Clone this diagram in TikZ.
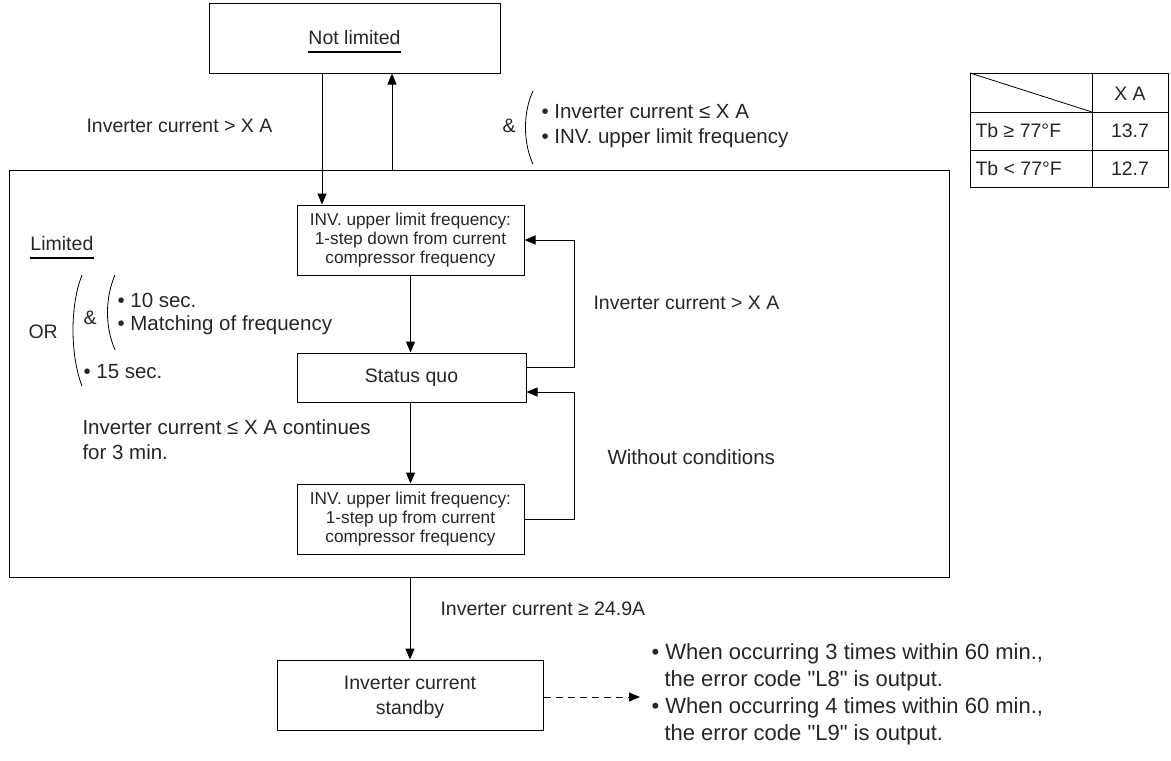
\documentclass[tikz,border=0pt]{standalone}
\usepackage{fontspec}
\setmainfont{Liberation Sans}
\newfontfamily\qfont{Liberation Sans}[Ligatures=TeXOff]
\usetikzlibrary{arrows.meta}
\begin{document}
\begin{tikzpicture}[x=1pt,y=-1pt,
  line width=1pt,
  every node/.style={font=\fontsize{19.5}{25}\selectfont, text=black!85},
  box/.style={draw, inner sep=0pt, align=center},
  smallbox/.style={box, font=\fontsize{17.2}{19}\selectfont, minimum width=227pt, minimum height=70pt},
  lbl/.style={anchor=west, inner sep=0pt, align=left},
  big lbl/.style={lbl, font=\fontsize{20.5}{25}\selectfont},
  arr/.style={-{Triangle[length=11pt,width=9pt]}},
  paren/.style={line width=0.8pt}
]
\useasboundingbox (0,0) rectangle (1171,761);

% boxes
\node[box, minimum width=291pt, minimum height=70pt] (nl) at (354.5,38) {};
\node[inner sep=0pt] (nlt) at (354.5,38) {Not limited};
\draw[line width=1.2pt] ([yshift=-7pt]nlt.base west) -- ([yshift=-7pt]nlt.base east);

\node[box, minimum width=940pt, minimum height=407pt] (big) at (479,373.5) {};
\node[lbl] (lim) at (30,244) {Limited};
\draw[line width=1.2pt] ([yshift=-7pt]lim.base west) -- ([yshift=-7pt]lim.base east);

\node[smallbox] (b1) at (410.5,240) {INV. upper limit frequency:\\1-step down from current\\compressor frequency};
\node[box, minimum width=229pt, minimum height=49pt] (sq) at (411.5,377.5) {Status quo};
\node[smallbox] (b3) at (410.5,519) {INV. upper limit frequency:\\1-step up from current\\compressor frequency};
\node[box, minimum width=266pt, minimum height=70pt] (sb) at (410,695) {};
\node[inner sep=0pt, align=center] (sbt) at (410,697.5) {Inverter current\\standby};

% connectors
\coordinate (d1) at (322,0);
\coordinate (u1) at (392,0);
\coordinate (r) at (574,0);
\coordinate (de) at (640,697);
\draw[arr] (nl.south -| d1) -- (b1.north -| d1);
\draw[arr] (big.north -| u1) -- (nl.south -| u1);
\draw[arr] (b1.south) -- (b1.south |- sq.north);
\draw[arr] (sq.south -| b3.north) -- (b3.north);
\draw[arr] ([yshift=10pt]sq.east) -- ([yshift=10pt]sq.east -| r) |- (b1.east);
\draw[arr] (b3.east) -- (b3.east -| r) |- ([yshift=-14.5pt]sq.east);
\draw[arr] (big.south -| sb.north) -- (sb.north);
\draw[arr, dashed, dash pattern=on 7pt off 5pt] ([yshift=-2pt]sb.east) -- (de);

% labels
\node[lbl] (l1) at (86,126) {Inverter current > X A};
\node[lbl] (amp1) at (502,126) {\&};
\draw[paren] (533,91) .. controls (523,112) and (523,143) .. (533,164);
\node[big lbl] (c1) at (541,112) {• Inverter current ≤ X A};
\node[big lbl] (c2) at (541,138) {• INV. upper limit frequency};

\node[lbl] (l2) at (593,303) {Inverter current > X A};
\node[big lbl] (l3) at (607,457) {Without conditions};

\node[lbl] (or) at (28,332) {OR};
\draw[paren] (82,275) .. controls (70,305) and (70,355) .. (82,386);
\node[lbl] (amp2) at (83,318) {\&};
\draw[paren] (115,275) .. controls (105,298) and (105,327) .. (115,350);
\node[big lbl] (o1) at (117,300) {• 10 sec.};
\node[big lbl] (o2) at (117,325) {• Matching of frequency};
\node[big lbl] (o3) at (83,372) {• 15 sec.};

\node[big lbl] (l4) at (82,440) {Inverter current ≤ X A continues\\for 3 min.};
\node[lbl] (l5) at (440,609) {Inverter current ≥ 24.9A};

\node[lbl, font=\fontsize{22}{27}\selectfont] (e1) at (651,667.5) {• When occurring 3 times within 60 min.,\\\hspace*{13pt}the error code {\qfont "L8"} is output.};
\node[lbl, font=\fontsize{22}{27}\selectfont] (e2) at (651,721.5) {• When occurring 4 times within 60 min.,\\\hspace*{13pt}the error code {\qfont "L9"} is output.};

% table
\draw (970,73) rectangle (1168,187);
\draw (970,112) -- (1168,112);
\draw (970,150) -- (1168,150);
\draw (1092,73) -- (1092,187);
\draw[line width=0.8pt] (970,73) -- (1092,112);
\node (th) at (1130,94) {X A};
\node[lbl] (t1) at (975,131) {Tb ≥ 77°F};
\node (v1) at (1130,131) {13.7};
\node[lbl] (t2) at (975,169) {Tb < 77°F};
\node (v2) at (1130,169) {12.7};
\end{tikzpicture}
\end{document}
